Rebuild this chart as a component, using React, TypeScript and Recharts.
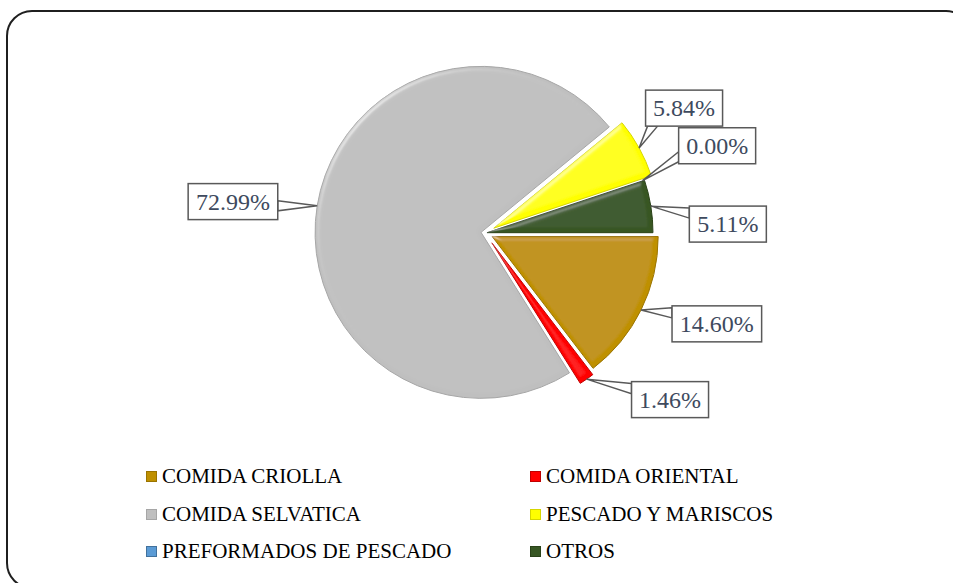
import React from 'react';
import { PieChart, Pie, Cell, Legend } from 'recharts';

const CATEGORIES = [
  'COMIDA CRIOLLA',
  'COMIDA ORIENTAL',
  'COMIDA SELVATICA',
  'PESCADO Y MARISCOS',
  'PREFORMADOS DE PESCADO',
  'OTROS',
];
const SHARES = [14.6, 1.46, 72.99, 5.84, 0.0, 5.11];

const SLICE_COLORS = ['#BF9000', '#FF0000', '#BFBFBF', '#FFFF00', '#5B9BD5', '#375623'];
const SLICE_EDGES = ['#9A7400', '#C00000', '#A6A6A6', '#D6D600', '#41719C', '#2A4219'];

// how far each slice is pulled out of the pie (px)
const EXPLODE = [8, 12, 4, 10, 0, 2];
// callout boxes: angle (recharts degrees) and distance from the pie centre
const LABEL_ANGLE = [-21.4, -42, 172.9, 32.1, 20.6, 2.1];
const LABEL_DIST = [249, 249, 254, 235, 248, 243];

const W = 953;
const H = 583;
const CX = 485;
const CY = 233;
const R = 166;
const RAD = Math.PI / 180;
const SERIF = '"Liberation Serif", "Times New Roman", serif';

const data = CATEGORIES.map((name, i) => ({ name, value: SHARES[i] }));
const total = SHARES.reduce((a, b) => a + b, 0);

// pie runs clockwise from 3 o'clock, so angles go negative
const midAngles = SHARES.map((v, i) => {
  const before = SHARES.slice(0, i).reduce((a, b) => a + b, 0);
  return -((before + v / 2) / total) * 360;
});

const polar = (cx: number, cy: number, r: number, angle: number) => ({
  x: cx + r * Math.cos(-angle * RAD),
  y: cy + r * Math.sin(-angle * RAD),
});

const clamp = (v: number, lo: number, hi: number) => Math.min(Math.max(v, lo), hi);

const Callout = ({ tipX, tipY, boxX, boxY, text }: any) => {
  const w = text.length * 12.6 + 14;
  const h = 36;
  const left = boxX - w / 2;
  const top = boxY - h / 2;
  const dx = (tipX - boxX) / (w / 2);
  const dy = (tipY - boxY) / (h / 2);
  let b1: number[];
  let b2: number[];
  if (Math.abs(dx) >= Math.abs(dy)) {
    const x = dx > 0 ? left + w : left;
    const y = clamp(tipY, top + 7, top + h - 7);
    b1 = [x, y - 5];
    b2 = [x, y + 5];
  } else {
    const y = dy > 0 ? top + h : top;
    const x = clamp(tipX, left + 7, left + w - 7);
    b1 = [x - 5, y];
    b2 = [x + 5, y];
  }
  return (
    <g>
      <path
        d={`M${b1[0]},${b1[1]} L${tipX},${tipY} L${b2[0]},${b2[1]} Z`}
        fill="#fff"
        stroke="#595959"
        strokeWidth={1.5}
      />
      <rect x={left} y={top} width={w} height={h} fill="#fff" stroke="#595959" strokeWidth={1.5} />
      <text
        x={boxX}
        y={boxY + 8}
        textAnchor="middle"
        fontFamily={SERIF}
        fontSize={24}
        fill="#3E4A5E"
      >
        {text}
      </text>
    </g>
  );
};

const renderLabel = (slice: number) => (props: any) => {
  if (props.index !== slice) return null;
  const tip = polar(props.cx, props.cy, props.outerRadius, props.midAngle);
  const box = polar(CX, CY, LABEL_DIST[slice], LABEL_ANGLE[slice]);
  return (
    <Callout
      tipX={tip.x}
      tipY={tip.y}
      boxX={box.x}
      boxY={box.y}
      text={`${SHARES[slice].toFixed(2)}%`}
    />
  );
};

const LegendBlock = () => (
  <div
    style={{
      display: 'grid',
      gridTemplateColumns: '384px auto',
      gridAutoRows: '37.5px',
      fontFamily: SERIF,
      fontSize: 21,
      color: '#000',
    }}
  >
    {CATEGORIES.map((name, i) => (
      <div key={name} style={{ display: 'flex', alignItems: 'center', whiteSpace: 'nowrap' }}>
        <span
          style={{
            display: 'inline-block',
            width: 9,
            height: 9,
            background: SLICE_COLORS[i],
            border: `1px solid ${SLICE_EDGES[i]}`,
            marginRight: 5,
          }}
        />
        {name}
      </div>
    ))}
  </div>
);

export default function App() {
  return (
    <div
      style={{
        position: 'absolute',
        left: 0,
        top: 0,
        width: W,
        height: H,
        overflow: 'hidden',
        background: '#fff',
      }}
    >
      <div
        style={{
          position: 'absolute',
          left: 6,
          top: 10,
          width: 962,
          height: 575,
          border: '2px solid #1f1f1f',
          borderRadius: 26,
        }}
      />
      <div style={{ position: 'absolute', left: 0, top: 0 }}>
        <PieChart width={W} height={H} margin={{ top: 0, right: 0, bottom: 0, left: 0 }}>
          <defs>
            <filter id="bevel" x="-10%" y="-10%" width="120%" height="120%">
              <feGaussianBlur in="SourceAlpha" stdDeviation="2.5" result="blur" />
              <feSpecularLighting
                in="blur"
                surfaceScale="3"
                specularConstant="0.7"
                specularExponent="24"
                lightingColor="#ffffff"
                result="spec"
              >
                <feDistantLight azimuth={225} elevation={35} />
              </feSpecularLighting>
              <feComposite in="spec" in2="SourceAlpha" operator="in" result="specIn" />
              <feComposite
                in="SourceGraphic"
                in2="specIn"
                operator="arithmetic"
                k1="0"
                k2="1"
                k3="0.35"
                k4="0"
              />
            </filter>
          </defs>
          {SHARES.map((_, i) => {
            const c = polar(CX, CY, EXPLODE[i], midAngles[i]);
            return (
              <Pie
                key={CATEGORIES[i]}
                data={data}
                dataKey="value"
                nameKey="name"
                cx={c.x}
                cy={c.y}
                outerRadius={R}
                startAngle={0}
                endAngle={-360}
                isAnimationActive={false}
                labelLine={false}
                label={renderLabel(i)}
                legendType="none"
              >
                {data.map((d, j) => (
                  <Cell
                    key={d.name}
                    fill={j === i ? SLICE_COLORS[i] : 'transparent'}
                    stroke={j === i ? SLICE_EDGES[i] : 'none'}
                    strokeWidth={1}
                    filter={j === i ? 'url(#bevel)' : undefined}
                  />
                ))}
              </Pie>
            );
          })}
          <Legend
            verticalAlign="bottom"
            content={() => <LegendBlock />}
            wrapperStyle={{ position: 'absolute', left: 146, top: 458, bottom: 'auto', width: 640 }}
          />
        </PieChart>
      </div>
    </div>
  );
}
